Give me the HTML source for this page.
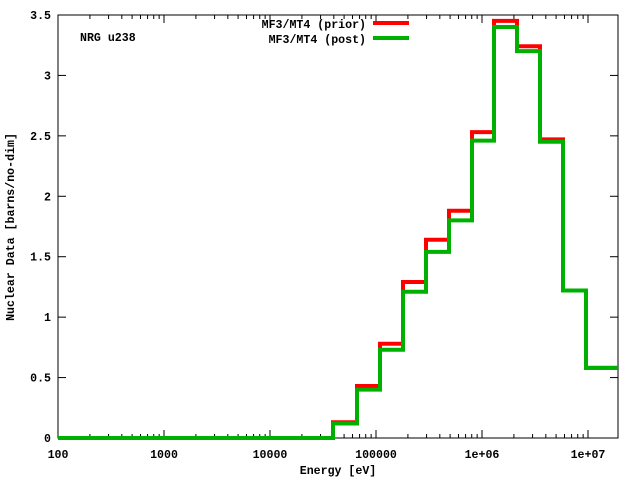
<!DOCTYPE html><html><head><style>body{margin:0;background:#fff}svg{display:block}text{font-family:"Liberation Mono",monospace;font-size:11.6px;font-weight:bold;fill:#000}</style></head><body>
<svg width="640" height="480" xmlns="http://www.w3.org/2000/svg">
<rect x="58" y="15" width="560" height="423" fill="none" stroke="#000" stroke-width="1"/>
<g stroke="#000" stroke-width="1" id="t"></g>
<g id="lab"></g>
<text x="14" y="227" text-anchor="middle" transform="rotate(-90 14 227)">Nuclear Data [barns/no-dim]</text>
<text x="338" y="474" text-anchor="middle">Energy [eV]</text>
<text x="80" y="41">NRG u238</text>
<text x="366" y="28" text-anchor="end">MF3/MT4 (prior)</text>
<text x="366" y="43" text-anchor="end">MF3/MT4 (post)</text>
<line x1="373" y1="23" x2="409" y2="23" stroke="#ff0000" stroke-width="4"/>
<line x1="373" y1="38" x2="409" y2="38" stroke="#00b000" stroke-width="4"/>
<polyline id="pr" fill="none" stroke="#ff0000" stroke-width="4"/>
<polyline id="po" fill="none" stroke="#00b000" stroke-width="4"/>
</svg>
<script>
var ns="http://www.w3.org/2000/svg",t=document.getElementById('t'),lab=document.getElementById('lab');
function L(a,b,c,d){var l=document.createElementNS(ns,'line');l.setAttribute('x1',a);l.setAttribute('y1',b);l.setAttribute('x2',c);l.setAttribute('y2',d);t.appendChild(l);}
function T(x,y,s,an){var e=document.createElementNS(ns,'text');e.setAttribute('x',x);e.setAttribute('y',y);e.setAttribute('text-anchor',an);e.textContent=s;lab.appendChild(e);}
var X=function(e){return 58+(Math.log10(e)-2)*106;};
var yl=['0','0.5','1','1.5','2','2.5','3','3.5'];
for(var i=0;i<8;i++){var y=438-i*60.43;L(58,y,66,y);L(618,y,610,y);T(51,y+4,yl[i],'end');}
var xl=['100','1000','10000','100000','1e+06','1e+07'];
for(var d=2;d<=7;d++){var x=X(Math.pow(10,d));L(x,438,x,430);L(x,15,x,23);T(x,458,xl[d-2],'middle');
for(var m=2;m<10;m++){var xm=X(m*Math.pow(10,d));if(xm<618){L(xm,438,xm,434);L(xm,15,xm,19);}}}
var ed=[58,333,357,380,403,426,449,472,494,517,540,563,586,618];
function P(v){var p=[],y;for(var i=0;i<v.length;i++){y=438-v[i]*120.9;p.push(ed[i]+','+y,ed[i+1]+','+y);}return p.join(' ');}
document.getElementById('pr').setAttribute('points',P([0,0.13,0.43,0.78,1.29,1.64,1.88,2.53,3.45,3.24,2.47,1.22,0.58]));
document.getElementById('po').setAttribute('points',P([0,0.12,0.40,0.73,1.21,1.54,1.80,2.46,3.40,3.20,2.45,1.22,0.58]));
</script></body></html>
